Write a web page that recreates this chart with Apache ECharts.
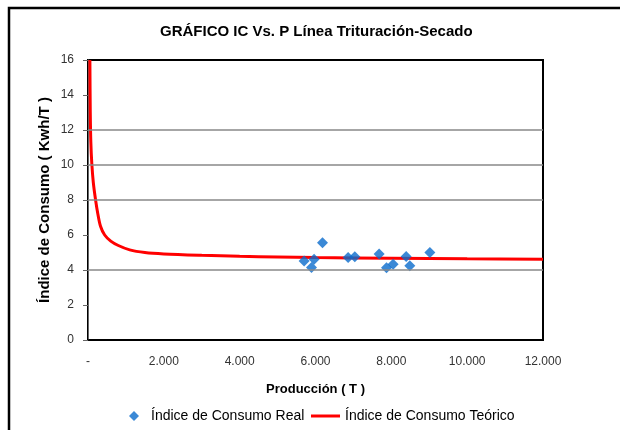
<!DOCTYPE html>
<html><head><meta charset="utf-8">
<script src="https://cdn.jsdelivr.net/npm/echarts@6/dist/echarts.min.js"></script>
<style>html,body{margin:0;padding:0;background:#fff}#c{width:620px;height:430px}</style>
</head><body><div id="c"></div>
<script>
const titleText = 'GRÁFICO IC Vs. P Línea Trituración-Secado';
const xName = 'Producción ( T )';
const yName = 'Índice de Consumo ( Kwh/T )';
const realName = 'Índice de Consumo Real';
const teoName = 'Índice de Consumo Teórico';
const realP = [5700, 5895, 5963, 6185, 6860, 7037, 7678, 7873, 8047, 8391, 8488, 9016];
const realIC = [4.51, 4.15, 4.61, 5.56, 4.72, 4.76, 4.91, 4.13, 4.33, 4.77, 4.24, 5.0];
const teoP = [50, 60, 75, 100, 140, 200, 260, 330, 440, 600, 800, 1100, 1500, 2000, 3000, 4000, 5000, 6000, 8000, 10000, 12000];
const teoIC = [16, 13, 11.3, 10.1, 9.0, 8.0, 7.2, 6.5, 6.0, 5.65, 5.4, 5.15, 5.0, 4.92, 4.84, 4.78, 4.74, 4.71, 4.67, 4.64, 4.62];
const gridLevels = [4, 8, 10, 12];

const font = '"Liberation Sans", Arial, sans-serif';
const chart = echarts.init(document.getElementById('c'));
chart.setOption({
  animation: false,
  textStyle: {fontFamily: font},
  title: {text: titleText, left: 155, top: 19,
    textStyle: {fontFamily: font, fontSize: 15, fontWeight: 'bold', color: '#000'}},
  graphic: [{type: 'rect', shape: {x: 9, y: 8, width: 800, height: 600},
    style: {fill: 'none', stroke: '#000', lineWidth: 2.5}, z: 100, silent: true}],
  grid: {left: 88, right: 77, top: 60, bottom: 90, show: true, borderColor: '#000', borderWidth: 2, containLabel: false},
  legend: [
    {data: [realName], left: 124, top: 404, itemWidth: 10, itemHeight: 10, icon: 'diamond',
      textStyle: {fontFamily: font, fontSize: 14, color: '#000', padding: [0, 0, 0, 7]}},
    {data: [teoName], left: 306, top: 404, itemWidth: 29, itemHeight: 3, icon: 'rect',
      textStyle: {fontFamily: font, fontSize: 14, color: '#000'}}
  ],
  xAxis: {type: 'value', min: 0, max: 12000, interval: 2000,
    name: xName, nameLocation: 'middle', nameGap: 43, nameMoveOverlap: false,
    nameTextStyle: {fontFamily: font, fontSize: 13, fontWeight: 'bold', color: '#000'},
    axisLine: {show: true, lineStyle: {color: '#000', width: 1.5}},
    axisTick: {show: false}, splitLine: {show: false},
    axisLabel: {margin: 16, fontSize: 12, color: '#333',
      formatter: v => v === 0 ? '-' : v.toLocaleString('de-DE') }},
  yAxis: {type: 'value', min: 0, max: 16, interval: 2,
    name: yName, nameLocation: 'middle', nameGap: 36, nameMoveOverlap: false,
    nameTextStyle: {fontFamily: font, fontSize: 15, fontWeight: 'bold', color: '#000'},
    axisLine: {show: true, lineStyle: {color: '#666', width: 1}},
    axisTick: {show: true, length: 5, lineStyle: {color: '#666'}},
    splitLine: {show: false},
    axisLabel: {margin: 14, fontSize: 12, color: '#333'}},
  series: [
    {type: 'line', data: [], silent: true, z: 1,
      markLine: {silent: true, symbol: 'none', label: {show: false},
        lineStyle: {color: '#888', width: 1.5, type: 'solid'},
        data: gridLevels.map(v => ({yAxis: v}))}},
    {name: teoName, type: 'line', smooth: 0.3, symbol: 'none', z: 3,
      lineStyle: {color: '#ff0000', width: 3}, itemStyle: {color: '#ff0000'},
      data: teoP.map((p, i) => [p, teoIC[i]])},
    {name: realName, type: 'scatter', symbol: 'diamond', symbolSize: 11, z: 4,
      itemStyle: {color: '#0a6ccc'},
      data: realP.map((p, i) => [p, realIC[i]])}
  ]
});
</script></body></html>
